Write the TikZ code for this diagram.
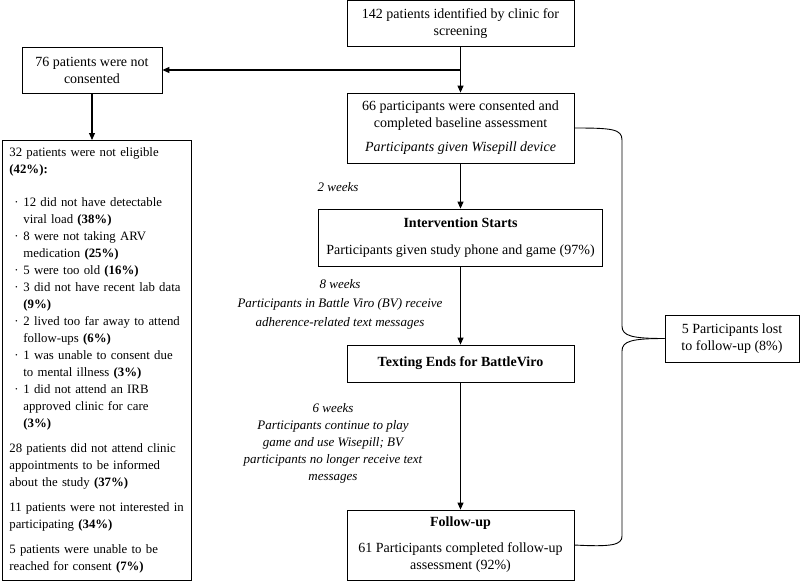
\documentclass[tikz,border=0pt]{standalone}
\usepackage{fontspec}
\setmainfont{Liberation Serif}
\usetikzlibrary{arrows.meta}
\usetikzlibrary{calc}

\tikzset{
  every node/.style={font=\fontsize{14}{17}\selectfont},
  box/.style={draw, line width=0.8pt, align=center, inner sep=0pt},
  flow/.style={-{Triangle[length=7pt,width=6pt]}, line width=1.1pt},
  note/.style={align=center, font=\fontsize{13}{17}\selectfont\itshape},
  brace/.style={line width=0.9pt}
}

\newcommand{\bitem}[1]{\hspace*{5pt}\makebox[9pt][l]{·}#1}
\newcommand{\bcont}[1]{\hspace*{14pt}#1}

\begin{document}
\begin{tikzpicture}[x=1pt, y=-1pt]
  \useasboundingbox (0,0) rectangle (800,581);

  % main column
  \node [box, minimum width=227pt, minimum height=46pt] (screen) at (460.5,23.5) {142 patients identified by clinic for\\ screening};
  \node [box, minimum width=227pt, minimum height=70pt] (consented) at (460.5,128) {66 participants were consented and\\ completed baseline assessment\\[7pt] \textit{Participants given Wisepill device}};
  \node [box, minimum width=284pt, minimum height=57pt] (intervention) at (460.5,237.5) {\textbf{Intervention Starts}\\[10pt] Participants given study phone and game (97\%)};
  \node [box, minimum width=227pt, minimum height=37pt] (texting) at (460.5,363.5) {\textbf{Texting Ends for BattleViro}};
  \node [box, minimum width=227pt, minimum height=70pt] (followup) at (460.5,545) {\textbf{Follow-up}\\[9pt] 61 Participants completed follow-up\\ assessment (92\%)};

  % left column
  \node [box, minimum width=140pt, minimum height=46pt] (notcons) at (92,70) {76 patients were not\\ consented};
  \node [draw, line width=0.8pt, anchor=north west, align=left, text width=175pt, inner xsep=7pt, inner ysep=7pt,
         font=\fontsize{12.8}{17}\selectfont] (noteligible) at (2,140) {%
    32 patients were not eligible\\
    \textbf{(42\%):}\\[16pt]
    \bitem{12 did not have detectable}\\
    \bcont{viral load \textbf{(38\%)}}\\
    \bitem{8 were not taking ARV}\\
    \bcont{medication \textbf{(25\%)}}\\
    \bitem{5 were too old \textbf{(16\%)}}\\
    \bitem{3 did not have recent lab data}\\
    \bcont{\textbf{(9\%)}}\\
    \bitem{2 lived too far away to attend}\\
    \bcont{follow-ups \textbf{(6\%)}}\\
    \bitem{1 was unable to consent due}\\
    \bcont{to mental illness \textbf{(3\%)}}\\
    \bitem{1 did not attend an IRB}\\
    \bcont{approved clinic for care}\\
    \bcont{\textbf{(3\%)}}\\[8pt]
    28 patients did not attend clinic\\
    appointments to be informed\\
    about the study \textbf{(37\%)}\\[8pt]
    11 patients were not interested in\\
    participating \textbf{(34\%)}\\[8pt]
    5 patients were unable to be\\
    reached for consent \textbf{(7\%)}};

  % right side
  \node [box, minimum width=134pt, minimum height=47pt] (lost) at (732,338.5) {5 Participants lost\\ to follow-up (8\%)};

  % time labels
  \node [note] (wk2) at (338,187) {2 weeks};
  \node [note, font=\fontsize{13}{19}\selectfont\itshape] (wk8) at (340,304) {8 weeks\\ Participants in Battle Viro (BV) receive\\ adherence-related text messages};
  \node [note] (wk6) at (333,443) {6 weeks\\ Participants continue to play\\ game and use Wisepill; BV\\ participants no longer receive text\\ messages};

  % arrows
  \draw [flow] (screen) -- (consented);
  \coordinate (split) at (screen.south |- notcons.east);
  \draw [flow] (split) -- (notcons.east);
  \draw [flow] (notcons) -- (notcons.south |- noteligible.north);
  \draw [flow] (consented) -- (intervention);
  \draw [flow] (intervention) -- (texting);
  \draw [flow] (texting) -- (followup);

  % brace to lost to follow-up
  \draw [brace] (consented.east) .. controls (612,128) and (622,129) .. (622,140) -- (622,326) .. controls (622,336) and (632,338.5) .. (lost.west);
  \draw [brace] (lost.west) .. controls (632,338.5) and (622,341) .. (622,351) -- (622,536) .. controls (622,545) and (612,547) .. (followup.east);
\end{tikzpicture}
\end{document}
